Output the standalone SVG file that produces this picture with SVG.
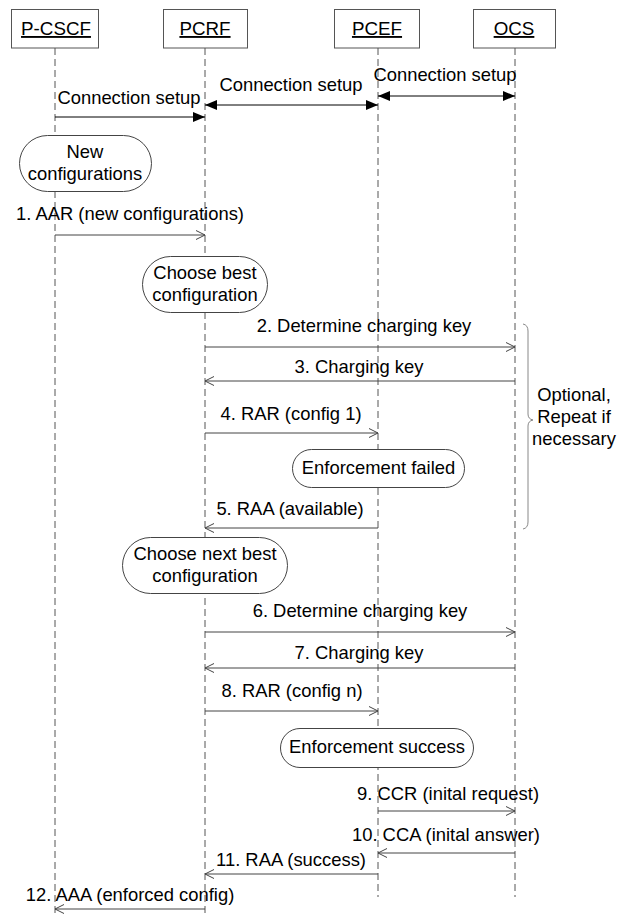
<svg xmlns="http://www.w3.org/2000/svg" width="626" height="917" viewBox="0 0 626 917">
  <style>
    text { font-family: "Liberation Sans", Arial, sans-serif; font-size: 18.4px; fill: #000; }
    .mid { text-anchor: middle; }
    .end { text-anchor: end; }
    .head rect { fill: #fff; stroke: #555; stroke-width: 1; }
    .head text { text-decoration: underline; font-size: 18.8px; }
    .life { stroke: #555; stroke-width: 1; stroke-dasharray: 7 4; fill: none; }
    .state rect { fill: #fff; stroke: #444; stroke-width: 1; }
    .msg { stroke: #444; stroke-width: 1; fill: none; marker-end: url(#open); }
    .setup { stroke: #000; stroke-width: 1; fill: none; marker-end: url(#solid); }
    .setup2 { marker-start: url(#solid); }
    .brace { stroke: #888; stroke-width: 1; fill: none; }
  </style>
  <defs>
    <marker id="open" markerUnits="userSpaceOnUse" markerWidth="12" markerHeight="12" viewBox="0 0 12 12" refX="10" refY="6" orient="auto-start-reverse">
      <path d="M1,1.5 L10,6 L1,10.5" fill="none" stroke="#444" stroke-width="1"/>
    </marker>
    <marker id="solid" markerUnits="userSpaceOnUse" markerWidth="13" markerHeight="12" viewBox="0 0 13 12" refX="12" refY="6" orient="auto-start-reverse">
      <path d="M0,1 L12,6 L0,11 z" fill="#000"/>
    </marker>
  </defs>

  <!-- lifelines -->
  <g id="lifelines">
    <line class="life" x1="55" y1="48" x2="55" y2="917"/>
    <line class="life" x1="205" y1="48" x2="205" y2="917"/>
    <line class="life" x1="378" y1="48" x2="378" y2="897"/>
    <line class="life" x1="515" y1="48" x2="515" y2="897"/>
  </g>

  <!-- participants -->
  <g id="p-cscf" class="head">
    <rect x="11.5" y="9.5" width="87" height="38.5"/>
    <text class="mid" x="56" y="35">P-CSCF</text>
  </g>
  <g id="pcrf" class="head">
    <rect x="163.5" y="9.5" width="84" height="38.5"/>
    <text class="mid" x="205" y="35">PCRF</text>
  </g>
  <g id="pcef" class="head">
    <rect x="334.5" y="9.5" width="85" height="38.5"/>
    <text class="mid" x="377" y="35">PCEF</text>
  </g>
  <g id="ocs" class="head">
    <rect x="473.5" y="9.5" width="82" height="38.5"/>
    <text class="mid" x="514" y="35">OCS</text>
  </g>

  <!-- state boxes -->
  <g id="new-configurations" class="state">
    <rect x="19.5" y="135.5" width="132" height="56" rx="28"/>
    <text class="mid" x="85" y="158">New</text>
    <text class="mid" x="85" y="180">configurations</text>
  </g>
  <g id="choose-best" class="state">
    <rect x="142.5" y="256.5" width="125" height="56" rx="28"/>
    <text class="mid" x="205" y="279">Choose best</text>
    <text class="mid" x="205" y="301">configuration</text>
  </g>
  <g id="enforcement-failed" class="state">
    <rect x="292.5" y="449.5" width="172" height="38" rx="19"/>
    <text class="mid" x="378.5" y="474">Enforcement failed</text>
  </g>
  <g id="choose-next-best" class="state">
    <rect x="122.5" y="537.5" width="165" height="56" rx="28"/>
    <text class="mid" x="205" y="560">Choose next best</text>
    <text class="mid" x="205" y="582">configuration</text>
  </g>
  <g id="enforcement-success" class="state">
    <rect x="280.5" y="728.5" width="193" height="39" rx="19.5"/>
    <text class="mid" x="377" y="753">Enforcement success</text>
  </g>

  <!-- messages -->
  <g id="connectors">
    <line class="setup" x1="55" y1="117" x2="205" y2="117"/>
    <line class="setup setup2" x1="205" y1="105" x2="378" y2="105"/>
    <line class="setup setup2" x1="378" y1="96" x2="515" y2="96"/>

    <line class="msg" x1="55" y1="235" x2="205" y2="235"/>
    <line class="msg" x1="205" y1="347" x2="515" y2="347"/>
    <line class="msg" x1="515" y1="381" x2="205" y2="381"/>
    <line class="msg" x1="205" y1="433" x2="378" y2="433"/>
    <line class="msg" x1="378" y1="528" x2="205" y2="528"/>
    <line class="msg" x1="205" y1="632" x2="515" y2="632"/>
    <line class="msg" x1="515" y1="668" x2="205" y2="668"/>
    <line class="msg" x1="205" y1="711" x2="378" y2="711"/>
    <line class="msg" x1="378" y1="811" x2="515" y2="811"/>
    <line class="msg" x1="515" y1="853" x2="378" y2="853"/>
    <line class="msg" x1="378" y1="874" x2="205" y2="874"/>
    <line class="msg" x1="205" y1="909" x2="55" y2="909"/>

    <path class="brace" d="M523,324 Q528,325 528,331 L528,414 Q528,419 533,420 Q528,421 528,426 L528,522 Q528,528 523,529"/>
  </g>

  <!-- message labels -->
  <g id="labels">
    <text class="mid" x="129" y="104">Connection setup</text>
    <text class="mid" x="291" y="91">Connection setup</text>
    <text class="mid" x="445" y="81">Connection setup</text>
    <text class="mid" x="130" y="220">1. AAR (new configurations)</text>
    <text class="mid" x="364" y="332">2. Determine charging key</text>
    <text class="mid" x="359" y="373">3. Charging key</text>
    <text class="mid" x="291" y="420">4. RAR (config 1)</text>
    <text class="mid" x="290" y="515">5. RAA (available)</text>
    <text class="mid" x="360" y="617">6. Determine charging key</text>
    <text class="mid" x="359" y="659">7. Charging key</text>
    <text class="mid" x="292" y="697">8. RAR (config n)</text>
    <text class="end" x="539" y="800">9. CCR (inital request)</text>
    <text class="end" x="540" y="841">10. CCA (inital answer)</text>
    <text class="mid" x="291" y="866">11. RAA (success)</text>
    <text class="mid" x="130" y="901">12. AAA (enforced config)</text>
    <text class="mid" x="574" y="401">Optional,</text>
    <text class="mid" x="574" y="423">Repeat if</text>
    <text class="mid" x="574" y="445">necessary</text>
  </g>
</svg>
